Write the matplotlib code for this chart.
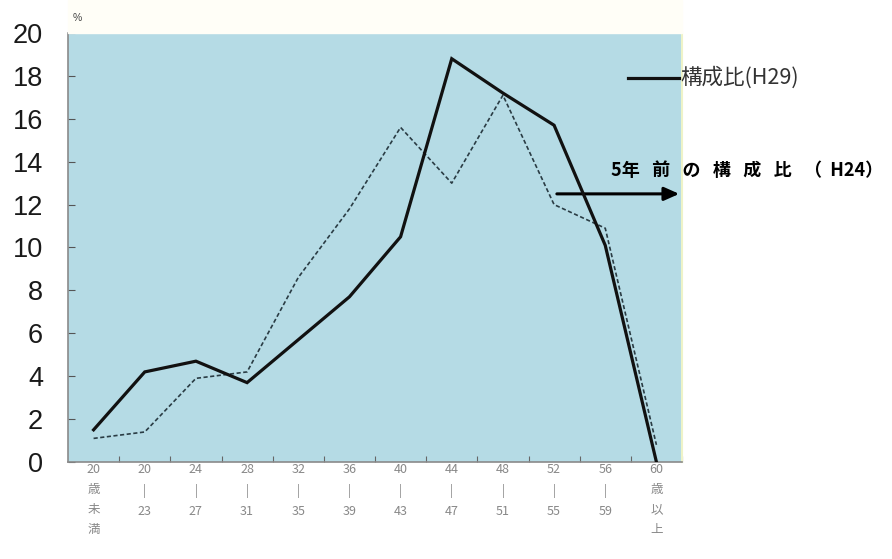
import numpy as np
import matplotlib
matplotlib.use("Agg")
import matplotlib.pyplot as plt

plt.rcParams['font.family'] = ['Liberation Sans', 'Noto Sans CJK JP', 'DejaVu Sans']

CATS = ["20\n歳\n未\n満", "20\n|\n23", "24\n|\n27", "28\n|\n31", "32\n|\n35", "36\n|\n39",
        "40\n|\n43", "44\n|\n47", "48\n|\n51", "52\n|\n55", "56\n|\n59", "60\n歳\n以\n上"]
H29 = [1.5, 4.2, 4.7, 3.7, 5.7, 7.7, 10.5, 18.8, 17.2, 15.7, 10.1, 0.0]
H24 = [1.1, 1.4, 3.9, 4.2, 8.6, 11.8, 15.6, 13.0, 17.1, 12.0, 10.9, 0.8]
YTICKS = [0, 2, 4, 6, 8, 10, 12, 14, 16, 18, 20]

fig = plt.figure(figsize=(8.92, 5.59), dpi=100)
ax = fig.add_axes([68 / 892, 1 - 462 / 559, 614 / 892, 429 / 559])
ax.set_facecolor("#b5dbe5")

# very faint yellow strip above the plot area
fig.patches.append(plt.Rectangle((68 / 892, 1 - 33 / 559), 614 / 892, 33 / 559,
                                 transform=fig.transFigure, color="#fffef7", zorder=0))

x = np.arange(len(CATS))
ax.plot(x, H29, color="#111111", lw=2.3, solid_joinstyle="miter", zorder=4)
ax.plot(x, H24, color="#2a3c44", lw=1.2, ls=(0, (2.5, 1.5)), zorder=3)

ax.set_xlim(-0.5, len(CATS) - 0.5)
ax.set_ylim(0, 20)
ax.set_yticks(YTICKS)
ax.set_yticklabels([str(v) for v in YTICKS], fontsize=19.5, color="#1a1a1a")
ax.tick_params(axis="y", direction="in", length=5, width=0.8, color="#555555", pad=18)
ax.set_xticks(x + 0.5, minor=False)
ax.set_xticks(x, minor=True)
ax.set_xticklabels([""] * len(CATS))
ax.set_xticklabels(CATS, minor=True, fontsize=9, color="#888888", linespacing=1.7,
                   family=['Noto Sans CJK JP', 'DejaVu Sans'], va="top")
ax.tick_params(axis="x", which="major", direction="in", length=4, width=0.8, color="#666666")
ax.tick_params(axis="x", which="minor", length=0, pad=1)
for s in ["left", "bottom"]:
    ax.spines[s].set_color("#8a8a8a")
    ax.spines[s].set_linewidth(1.2)
ax.spines["top"].set_visible(False)
ax.spines["right"].set_color("#eef3c8")
ax.spines["right"].set_linewidth(1.5)

fig.text(73 / 892, 1 - 18 / 559, "%", fontsize=7.5, color="#444444", ha="left", va="center")

# legend for H29
fig.add_artist(plt.Line2D([628 / 892, 679 / 892], [1 - 78 / 559, 1 - 78 / 559],
                          color="#111111", lw=2.3))
fig.text(680 / 892, 1 - 78 / 559, "構成比(H29)", fontsize=15.5, color="#333333",
         family=['Noto Sans CJK JP'], ha="left", va="center")

# annotation for H24 with arrow
ax.annotate("", xy=(11.5, 12.5), xytext=(9.0, 12.5),
            arrowprops=dict(arrowstyle="-|>,head_length=0.9,head_width=0.4", color="black", lw=2.2))
fig.text(611 / 892, 1 - 171 / 559, "5年   前   の   構   成   比   （  H24）", fontsize=13,
         color="black", fontweight="bold", family=['Noto Sans CJK JP'], ha="left", va="center")

fig.savefig("out.png", dpi=100, facecolor="white")
